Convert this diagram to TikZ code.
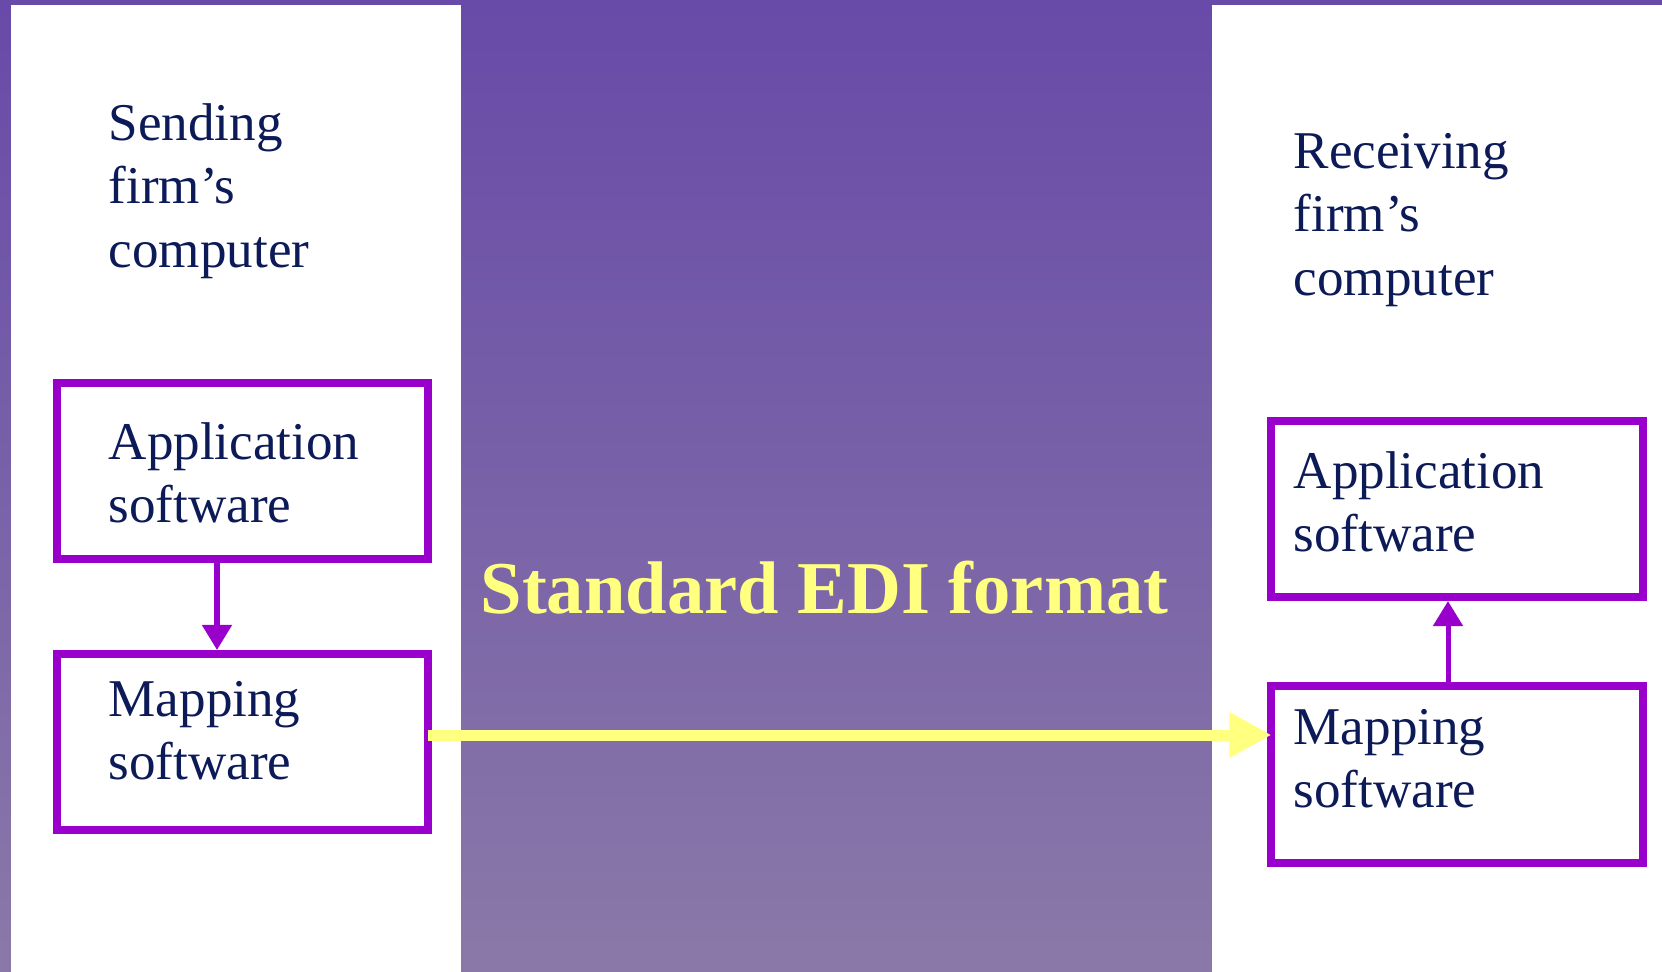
\documentclass[tikz,border=0pt]{standalone}
\usepackage{fontspec}
\setmainfont{Liberation Serif}
\usetikzlibrary{arrows.meta}

\definecolor{navy}{RGB}{12,26,88}
\definecolor{boxpurple}{RGB}{153,0,204}
\definecolor{ediyellow}{RGB}{255,255,128}
\definecolor{bgtop}{RGB}{104,74,168}
\definecolor{bgbottom}{RGB}{138,121,168}

\tikzset{
  flow/.style={draw=boxpurple, line width=0.05cm, -{Triangle[width=0.29cm,length=0.25cm]}},
  ediarrow/.style={draw=ediyellow, line width=0.11cm, shorten <=-0.04cm, shorten >=-0.04cm, -{Triangle[width=0.43cm,length=0.42cm]}}
}

\begin{document}
\begin{tikzpicture}[x=0.01cm, y=-0.01cm]

        \useasboundingbox (0,0) rectangle (1662,972);
        \shade[top color=bgtop, bottom color=bgbottom] (0,0) rectangle (1662,972);
        \fill[white] (11,5) rectangle (461,972);
        \fill[white] (1212,5) rectangle (1662,972);

        \begin{scope}[every node/.style={draw=boxpurple, line width=0.08cm, minimum width=3.71cm, minimum height=1.76cm, inner sep=0pt}]
          \node (sapp) at (242.5,471) {};
          \node (smap) at (242.5,742) {};
          \node (rapp) at (1457,509)  {};
          \node (rmap) at (1457,774.5) {};
        \end{scope}

        \begin{scope}[every node/.style={anchor=base west, inner sep=0pt, text width=6cm, align=left, text=navy, font=\fontsize{15.1}{18.1}\selectfont}]
          \node (sfirm)  at (108,140)  {Sending\\firm’s\\computer};
          \node (rfirm)  at (1293,168) {Receiving\\firm’s\\computer};
          \node (sappt)  at (108,459)  {Application\\software};
          \node (smapt)  at (108,716)  {Mapping\\software};
          \node (rappt)  at (1293,488) {Application\\software};
          \node (rmapt)  at (1293,744) {Mapping\\software};
        \end{scope}

        \node[anchor=base west, inner sep=0pt, text=ediyellow, font=\bfseries\fontsize{21.2}{25}\selectfont] (edi) at (480,613) {Standard EDI format};

        \coordinate (sx) at (217,0);
        \coordinate (rx) at (1448,0);
        \coordinate (ey) at (0,735);

        \draw[flow] (sapp.south -| sx) -- (smap.north -| sx);
        \draw[flow] (rmap.north -| rx) -- (rapp.south -| rx);
        \draw[ediarrow] (smap.east |- ey) -- (rmap.west |- ey);

      \end{tikzpicture}
\end{document}
